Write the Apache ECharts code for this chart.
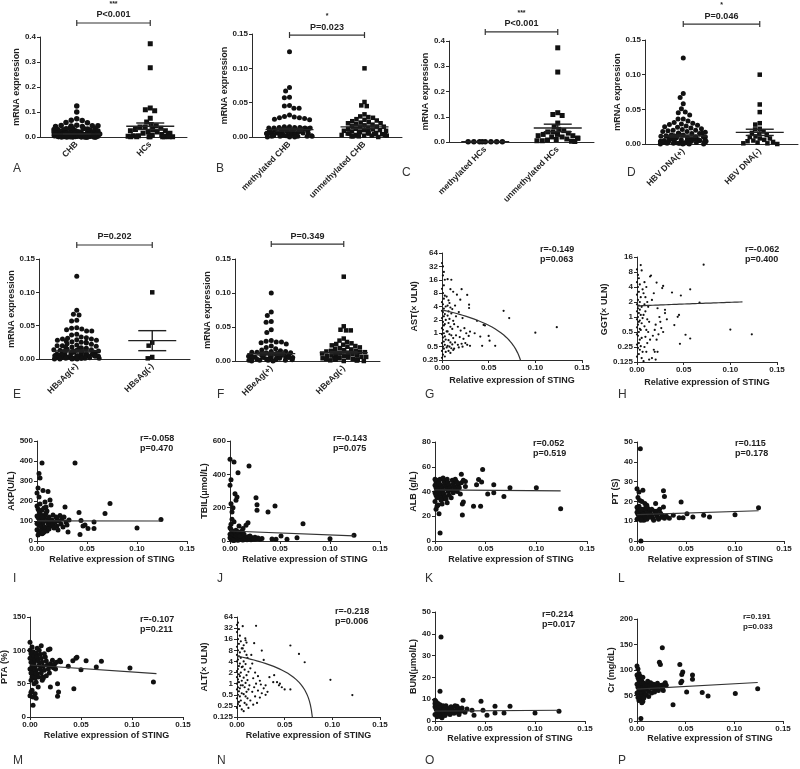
<!DOCTYPE html>
<html><head><meta charset="utf-8">
<script src="https://cdn.jsdelivr.net/npm/echarts@6/dist/echarts.min.js"></script>
<style>html,body{margin:0;padding:0;background:#fff}#c{width:800px;height:769px}</style>
</head><body><div id="c"></div>
<script>
// ---------------- DATA ----------------
// Dot plots (mRNA expression)
const A_cats = ['CHB', 'HCs'];
const A_CHB = [0.124,0.100,0.073,0.067,0.066,0.058,0.057,0.047,0.046,0.045,0.045,0.044,0.042,0.042,
 0.037,0.036,0.035,0.034,0.033,0.032,0.031,0.030,0.030,0.029,0.028,0.028,0.027,0.027,0.026,0.025,0.025,0.024,0.024,0.023,0.022,0.022,
 0.021,0.020,0.020,0.019,0.019,0.018,0.018,0.017,0.017,0.016,0.016,0.015,0.015,0.015,
 0.014,0.014,0.013,0.013,0.013,0.012,0.012,0.012,0.011,0.011,0.011,0.010,0.010,0.010,0.010,
 0.009,0.009,0.009,0.009,0.008,0.008,0.008,0.008,0.007,0.007,0.007,0.007,0.007,
 0.006,0.006,0.006,0.006,0.006,0.005,0.005,0.005,0.005,0.005,0.005,
 0.004,0.004,0.004,0.004,0.004,0.004,0.003,0.003,0.003,0.003,0.003,0.003,0.003,
 0.002,0.002,0.002,0.002,0.002,0.002,0.002,0.001,0.001,0.001,0.001,0.001,0.001,0.001,0.001,
 0.000,0.000,0.000,0.000,0.000,0.000];
const A_HCs = [0.373,0.277,0.116,0.109,0.105,0.075,0.060,0.050,0.045,0.040,0.040,0.035,0.030,0.030,0.025,0.025,0.020,0.020,
 0.015,0.015,0.012,0.010,0.008,0.005,0.005,0.003,0.002,0.001,0.001,0.001,0.001,0.001,0.001,0.001,0.001];
const A_mean = [0.012, 0.043], A_sem = [0.0015, 0.013];

const B_cats = ['methylated CHB', 'unmethylated CHB'];
const B_meth = [0.124,0.072,0.067,0.058,0.057,0.046,0.045,0.042,0.042,0.032,0.030,0.029,0.028,0.028,0.027,0.026,0.025,
 0.015,0.015,0.014,0.014,0.014,0.013,0.013,0.013,0.013,0.012,0.012,0.012,0.011,0.011,0.011,0.010,0.010,0.010,0.010,
 0.009,0.009,0.009,0.008,0.008,0.008,0.008,0.007,0.007,0.007,0.006,0.006,0.006,0.006,0.005,0.005,0.005,0.005,
 0.004,0.004,0.004,0.004,0.003,0.003,0.003,0.003,0.003,0.002,0.002,0.002,0.002,0.001,0.001,0.001,0.001,0.001,0.000,0.000,0.000];
const B_unmeth = [0.100,0.051,0.046,0.045,0.033,0.030,0.029,0.028,0.026,0.025,0.024,0.023,0.022,0.021,0.020,0.020,0.019,0.018,
 0.017,0.016,0.015,0.015,0.014,0.013,0.012,0.012,0.011,0.010,0.010,0.009,0.009,0.008,0.008,0.007,0.007,0.006,0.006,
 0.005,0.005,0.005,0.004,0.004,0.003,0.003,0.003,0.002,0.002,0.002,0.001,0.001,0.001,0.000];
const B_mean = [0.0107, 0.0147], B_sem = [0.002, 0.0025];

const C_cats = ['methylated HCs', 'unmethylated HCs'];
const C_meth = [0.001,0.001,0.001,0.001,0.001,0.001,0.001,0.001];
const C_unmeth = [0.373,0.277,0.116,0.109,0.105,0.075,0.060,0.050,0.045,0.040,0.040,0.035,0.030,0.030,0.025,0.025,0.020,0.020,
 0.015,0.015,0.012,0.010,0.008,0.005,0.005,0.003,0.002];
const C_mean = [0.001, 0.0556], C_sem = [0.0002, 0.015];

const D_cats = ['HBV DNA(+)', 'HBV DNA(-)'];
const D_pos = [0.124,0.073,0.067,0.058,0.051,0.046,0.045,0.042,0.036,0.036,0.033,0.031,0.030,0.029,0.028,0.027,0.026,0.025,
 0.024,0.023,0.022,0.021,0.020,0.020,0.019,0.018,0.018,0.017,0.016,0.016,0.015,0.015,0.014,0.014,0.013,0.013,0.012,0.012,0.012,
 0.011,0.011,0.010,0.010,0.010,0.009,0.009,0.009,0.008,0.008,0.008,0.008,0.007,0.007,0.007,0.007,0.006,0.006,0.006,0.006,
 0.005,0.005,0.005,0.005,0.005,0.004,0.004,0.004,0.004,0.004,0.003,0.003,0.003,0.003,0.003,0.002,0.002,0.002,0.002,0.002,
 0.001,0.001,0.001,0.001,0.001,0.001,0.000,0.000,0.000,0.000];
const D_neg = [0.100,0.057,0.046,0.030,0.028,0.022,0.021,0.018,0.016,0.015,0.013,0.011,0.010,0.008,0.008,0.006,0.005,0.004,0.003,0.002,0.001,0.001,0.000];
const D_mean = [0.0115, 0.0168], D_sem = [0.0015, 0.0045];

const E_cats = ['HBsAg(+)', 'HBsAg(-)'];
const E_pos = [0.124,0.073,0.067,0.066,0.058,0.057,0.047,0.046,0.045,0.044,0.042,0.042,0.037,0.036,0.033,0.032,0.031,0.030,0.030,
 0.029,0.028,0.028,0.027,0.026,0.025,0.025,0.024,0.023,0.022,0.021,0.020,0.020,0.019,0.018,0.018,0.017,0.016,0.016,0.015,0.015,
 0.014,0.014,0.013,0.013,0.012,0.012,0.012,0.011,0.011,0.010,0.010,0.010,0.009,0.009,0.009,0.008,0.008,0.008,0.007,0.007,0.007,
 0.006,0.006,0.006,0.006,0.005,0.005,0.005,0.005,0.005,0.004,0.004,0.004,0.004,0.004,0.003,0.003,0.003,0.003,0.003,
 0.002,0.002,0.002,0.002,0.002,0.001,0.001,0.001,0.001,0.001,0.001,0.000,0.000,0.000,0.000];
const E_neg = [0.100,0.0245,0.020,0.003,0.001];
const E_mean = [0.012, 0.0275], E_sem = [0.0015, 0.015];

const F_cats = ['HBeAg(+)', 'HBeAg(-)'];
const F_pos = [0.100,0.072,0.067,0.058,0.057,0.046,0.042,0.030,0.029,0.028,0.028,0.027,0.025,0.022,0.020,0.018,0.016,0.015,0.014,0.014,
 0.013,0.013,0.012,0.012,0.011,0.011,0.010,0.010,0.010,0.009,0.009,0.009,0.008,0.008,0.008,0.007,0.007,0.007,0.006,0.006,0.006,
 0.005,0.005,0.005,0.005,0.004,0.004,0.004,0.003,0.003,0.003,0.003,0.002,0.002,0.002,0.001,0.001,0.001,0.001,0.000,0.000];
const F_neg = [0.124,0.051,0.046,0.045,0.045,0.033,0.030,0.028,0.026,0.025,0.024,0.023,0.022,0.021,0.020,0.019,0.018,0.017,0.016,
 0.015,0.015,0.014,0.013,0.013,0.012,0.012,0.011,0.011,0.010,0.010,0.009,0.009,0.008,0.008,0.007,0.007,0.006,0.006,
 0.005,0.005,0.005,0.004,0.004,0.004,0.003,0.003,0.003,0.002,0.002,0.002,0.001,0.001,0.001,0.000,0.000];
const F_mean = [0.0108, 0.0123], F_sem = [0.002, 0.0018];

// Correlation panels: [STING expression, clinical value]
const G_AST = [[0.000,38],[0.001,32],[0.002,24],[0.001,20],[0.003,16],[0.002,12],[0.000,10],[0.001,8],[0.003,7],[0.002,6],[0.000,5],[0.001,4.5],[0.004,4],[0.002,3.6],[0.000,3.2],[0.001,3],[0.003,2.7],[0.002,2.4],[0.000,2.2],[0.004,2],[0.001,1.8],[0.003,1.6],[0.002,1.5],[0.000,1.3],[0.001,1.2],[0.005,1.1],[0.002,1],[0.000,0.95],[0.003,0.85],[0.001,0.8],[0.004,0.72],[0.002,0.65],[0.000,0.6],[0.003,0.55],[0.001,0.5],[0.005,0.48],[0.002,0.45],[0.000,0.4],[0.004,0.38],[0.001,0.33],[0.003,0.3],[0.000,0.28],
 [0.006,16.5],[0.010,16],[0.009,9.8],[0.012,8.6],[0.005,6.7],[0.007,5.5],[0.008,4.8],[0.006,4.2],[0.009,3.8],[0.011,3.5],[0.007,3.1],[0.010,2.8],[0.006,2.5],[0.008,2.1],[0.012,1.9],[0.007,1.7],[0.009,1.4],[0.011,1.25],[0.006,1.1],[0.008,0.95],[0.010,0.9],[0.012,0.78],[0.007,0.7],[0.009,0.62],[0.011,0.56],[0.006,0.52],[0.008,0.5],[0.010,0.46],[0.007,0.4],[0.012,0.42],[0.009,0.36],
 [0.016,7.4],[0.021,9.8],[0.0196,5.7],[0.027,7.3],[0.029,4.4],[0.029,3.7],[0.014,4.2],[0.018,3],[0.015,2.4],[0.022,2.2],[0.013,1.6],[0.017,1.4],[0.024,1.3],[0.020,1.15],[0.026,1.0],[0.030,1.09],[0.0286,0.87],[0.015,0.9],[0.019,0.82],[0.023,0.75],[0.025,0.6],[0.021,0.58],[0.017,0.55],[0.014,0.62],[0.027,0.55],[0.030,0.52],[0.018,0.48],[0.013,0.45],[0.022,0.5],
 [0.066,3.2],[0.072,2.2],[0.100,1.03],[0.123,1.37],[0.0375,1.9],[0.0446,1.54],[0.046,1.5],[0.041,0.84],[0.050,0.87],[0.051,0.68],[0.043,0.52],[0.057,0.52],[0.035,1.0]];
const G_fit = [3.36, -37];

const H_GGT = [[0.000,9],[0.001,7],[0.004,11],[0.005,8.6],[0.002,6],[0.000,5],[0.003,4.5],[0.001,4],[0.006,3.6],[0.002,3.2],[0.000,2.8],[0.004,2.5],[0.001,2.2],[0.003,2],[0.000,1.8],[0.002,1.7],[0.005,1.6],[0.001,1.5],[0.003,1.4],[0.000,1.3],[0.002,1.2],[0.004,1.1],[0.001,1.0],[0.006,0.95],[0.000,0.9],[0.003,0.85],[0.002,0.8],[0.005,0.75],[0.001,0.7],[0.000,0.62],[0.003,0.58],[0.004,0.55],[0.002,0.5],[0.000,0.45],[0.001,0.42],[0.005,0.38],[0.003,0.35],[0.002,0.3],[0.000,0.28],[0.004,0.26],[0.001,0.24],[0.003,0.22],[0.006,0.2],[0.002,0.18],[0.000,0.16],[0.005,0.15],[0.007,0.13],
 [0.008,5],[0.010,4],[0.007,3],[0.009,2.5],[0.011,2],[0.008,1.8],[0.012,1.6],[0.009,1.3],[0.007,1.1],[0.011,0.9],[0.013,0.8],[0.008,0.65],[0.010,0.55],[0.012,0.5],[0.009,0.4],[0.014,0.35],[0.011,0.3],[0.008,0.25],[0.013,0.14],[0.010,0.2],
 [0.014,6.5],[0.015,6.8],[0.021,4.9],[0.028,4.2],[0.027,3.8],[0.018,3],[0.016,2.2],[0.022,1.5],[0.030,1.39],[0.030,1.2],[0.032,0.9],[0.024,1],[0.025,0.8],[0.020,0.7],[0.026,0.6],[0.019,0.55],[0.023,0.45],[0.028,0.5],[0.017,0.42],[0.021,0.35],[0.018,0.22],[0.019,0.2],[0.016,0.15],[0.020,0.14],[0.022,0.2],
 [0.0714,11.2],[0.0375,3.1],[0.047,2.7],[0.057,3.6],[0.067,1.95],[0.100,0.56],[0.123,0.45],[0.052,0.44],[0.057,0.37],[0.046,0.29],[0.040,0.69],[0.0436,1.01],[0.045,1.1]];
const H_fit = [1.67, 3.0];

const I_AKP = [[0.005,390],[0.038,390],[0.002,337],[0.003,315],[0.006,253],[0.011,248],[0.028,170],[0.073,187],[0.068,137],[0.042,142],[0.124,107],[0.100,65],[0.057,95],[0.057,62],[0.051,62],[0.046,75],[0.044,103],[0.048,80],[0.043,33],[0.029,95],[0.031,45],[0.023,128],[0.020,115],[0.016,130],[0.013,205],[0.008,195],[0.001,265],[0.000,240],[0.002,220],[0.014,180],
 [0.000,175],[0.001,160],[0.002,150],[0.003,140],[0.004,130],[0.000,125],[0.001,118],[0.002,112],[0.003,105],[0.004,100],[0.005,95],[0.006,90],[0.000,88],[0.001,84],[0.002,80],[0.003,76],[0.004,72],[0.005,68],[0.006,64],[0.007,60],[0.000,56],[0.001,52],[0.002,48],[0.003,44],[0.004,40],[0.005,36],[0.006,110],[0.007,120],[0.008,130],[0.009,140],[0.010,100],[0.011,90],[0.012,80],[0.008,70],[0.009,60],[0.010,50],[0.011,110],[0.012,120],[0.013,95],[0.014,75],[0.015,105],[0.016,85],[0.017,65],[0.018,95],[0.019,120],[0.020,75],[0.021,55],[0.022,100],[0.024,85],[0.025,110],[0.026,70],[0.027,120],[0.030,80],[0.032,105],[0.005,155],[0.007,165],[0.009,170],[0.003,185],[0.010,150],[0.004,50],[0.007,45],[0.012,60],[0.001,30],[0.006,40],[0.002,95],[0.005,120]];
const I_fit = [101, -8];

const J_TBIL = [[0.000,490],[0.004,474],[0.008,410],[0.001,368],[0.000,334],[0.019,450],[0.007,264],[0.005,284],[0.006,244],[0.001,224],[0.002,174],[0.026,260],[0.027,218],[0.027,184],[0.038,174],[0.045,210],[0.073,104],[0.018,110],[0.124,34],[0.100,14],[0.067,20],[0.057,10],[0.051,30],[0.046,10],[0.042,12],[0.032,15],[0.003,200],[0.002,130],[0.004,115],[0.001,100],[0.009,90],[0.013,75],[0.016,95],[0.012,60],
 [0.000,80],[0.001,70],[0.002,60],[0.003,55],[0.004,50],[0.005,45],[0.000,40],[0.001,35],[0.002,30],[0.003,25],[0.004,20],[0.005,15],[0.006,10],[0.007,8],[0.008,5],[0.000,20],[0.001,12],[0.002,8],[0.003,5],[0.004,3],[0.006,30],[0.007,25],[0.008,20],[0.009,15],[0.010,12],[0.011,10],[0.012,8],[0.013,6],[0.014,20],[0.015,15],[0.016,10],[0.017,8],[0.018,25],[0.019,18],[0.020,12],[0.021,8],[0.022,20],[0.023,15],[0.024,10],[0.025,22],[0.026,12],[0.028,18],[0.030,10],[0.009,40],[0.011,35],[0.006,65],[0.008,55],[0.010,30],[0.014,40],[0.020,30]];
const J_fit = [60, -240];

const K_ALB = [[0.005,6.5],[0.004,22],[0.027,21],[0.027,30],[0.028,31.5],[0.038,28],[0.045,28],[0.047,57.7],[0.043,49.6],[0.046,47.7],[0.041,45.5],[0.052,38],[0.058,39],[0.058,45.5],[0.068,36],[0.074,43],[0.100,43],[0.124,26],[0.026,54],[0.001,25.6],[0.002,28],[0.000,32],
 [0.000,50],[0.001,48],[0.002,46],[0.003,44],[0.004,42],[0.005,40],[0.006,38],[0.007,36],[0.008,34],[0.000,45],[0.001,43],[0.002,41],[0.003,39],[0.004,37],[0.005,35],[0.006,33],[0.000,39],[0.001,37],[0.002,35],[0.003,49],[0.004,47],[0.005,50],[0.006,45],[0.007,43],[0.008,41],[0.009,48],[0.010,46],[0.011,44],[0.012,42],[0.013,40],[0.009,38],[0.010,36],[0.011,34],[0.012,50],[0.013,47],[0.014,45],[0.015,43],[0.016,41],[0.017,49],[0.018,46],[0.019,44],[0.020,42],[0.021,48],[0.022,40],[0.023,45],[0.024,43],[0.025,38],[0.026,47],[0.028,49],[0.030,48],[0.030,44],[0.020,50],[0.016,35],[0.012,31],[0.007,30],[0.003,29],[0.018,39],[0.014,37],[0.022,47],[0.008,51]];
const K_fit = [41.3, -6];

const L_PT = [[0.0034,46.6],[0.004,0],[0.000,26.4],[0.002,24.7],[0.006,25.6],[0.001,22],[0.003,20.5],[0.005,20],[0.027,25.4],[0.028,22.5],[0.027,17.2],[0.019,18.9],[0.045,19.7],[0.124,16.8],[0.100,13.3],[0.068,13],[0.074,12.1],[0.057,12.1],[0.051,13.8],[0.047,11.8],[0.043,11.8],[0.037,13],[0.033,11.5],[0.030,12.5],[0.008,19],[0.010,18],
 [0.000,17],[0.001,16],[0.002,15],[0.003,14],[0.004,13],[0.005,12],[0.006,11],[0.007,10.5],[0.000,14.5],[0.001,13.5],[0.002,12.5],[0.003,11.5],[0.004,10.5],[0.005,16],[0.006,15],[0.007,14],[0.008,13],[0.009,12],[0.010,11],[0.011,16.5],[0.012,15.5],[0.013,14.5],[0.014,13.5],[0.015,12.5],[0.016,11.5],[0.017,10.5],[0.018,15],[0.019,14],[0.020,13],[0.021,12],[0.022,11],[0.023,16],[0.024,14],[0.025,12],[0.026,13],[0.028,11.5],[0.008,16],[0.010,14],[0.012,12],[0.000,11],[0.002,17.5],[0.004,15.5],[0.006,13.5],[0.009,17],[0.015,16],[0.020,15]];
const L_fit = [13.3, 16];

const M_PTA = [[0.000,112],[0.011,107],[0.0196,102],[0.018,101],[0.003,17.5],[0.000,32],[0.001,37],[0.003,30],[0.005,35],[0.002,40],[0.006,28],[0.020,45],[0.027,50],[0.027,31],[0.028,37.5],[0.043,42.5],[0.042,84.5],[0.045,88],[0.046,89.5],[0.055,84.5],[0.050,71],[0.065,75],[0.070,83.5],[0.098,73.5],[0.121,52.5],[0.029,85],[0.030,83],[0.0375,76],[0.008,45],[0.012,55],
 [0.000,100],[0.001,95],[0.002,90],[0.003,85],[0.004,80],[0.005,75],[0.006,70],[0.007,65],[0.008,60],[0.000,88],[0.001,82],[0.002,76],[0.003,70],[0.004,64],[0.005,58],[0.006,52],[0.000,72],[0.001,66],[0.002,60],[0.003,98],[0.004,92],[0.005,86],[0.006,96],[0.007,90],[0.008,84],[0.009,78],[0.010,72],[0.011,66],[0.012,60],[0.009,100],[0.010,94],[0.011,88],[0.012,82],[0.013,76],[0.014,70],[0.015,90],[0.016,84],[0.017,78],[0.018,72],[0.019,66],[0.020,80],[0.021,76],[0.022,85],[0.023,74],[0.024,79],[0.025,72],[0.026,82],[0.014,95],[0.007,103],[0.002,105],[0.001,55],[0.004,50],[0.013,58],[0.016,62]];
const M_fit = [78, -105];

const N_ALT = [[0.000,39],[0.001,45],[0.002,30],[0.000,25],[0.003,20],[0.001,16],[0.004,14],[0.002,12],[0.000,10],[0.005,9],[0.001,8],[0.003,7],[0.000,6],[0.002,5.5],[0.004,5],[0.001,4.5],[0.000,4],[0.003,3.5],[0.002,3],[0.005,2.8],[0.001,2.5],[0.000,2.2],[0.004,2],[0.002,1.8],[0.003,1.6],[0.000,1.5],[0.001,1.3],[0.005,1.2],[0.002,1.1],[0.000,1],[0.004,0.9],[0.001,0.8],[0.003,0.75],[0.000,0.7],[0.002,0.62],[0.005,0.55],[0.001,0.5],[0.003,0.45],[0.000,0.4],[0.004,0.35],[0.002,0.32],[0.001,0.28],[0.003,0.25],[0.000,0.22],[0.005,0.2],[0.007,0.18],
 [0.006,36],[0.0087,17],[0.009,15],[0.010,13],[0.007,11],[0.006,9],[0.008,7.5],[0.010,6],[0.011,5],[0.007,4],[0.009,3.4],[0.006,2.9],[0.008,2.4],[0.012,2.1],[0.010,1.7],[0.007,1.45],[0.011,1.25],[0.009,1.05],[0.006,0.9],[0.008,0.8],[0.012,0.7],[0.010,0.6],[0.007,0.52],[0.009,0.45],[0.011,0.4],[0.008,0.3],[0.010,0.27],[0.012,0.22],
 [0.020,37],[0.018,12.5],[0.026,7.9],[0.028,4.4],[0.015,6],[0.016,3.5],[0.014,2.6],[0.019,2],[0.022,1.6],[0.017,1.4],[0.024,1.2],[0.020,1.0],[0.025,0.95],[0.013,0.9],[0.018,0.8],[0.028,0.75],[0.022,0.65],[0.016,0.6],[0.026,0.55],[0.030,0.5],[0.019,0.45],[0.024,0.42],[0.014,0.35],[0.021,0.3],[0.017,0.27],[0.032,0.6],[0.030,0.9],[0.034,1.5],
 [0.056,10.8],[0.065,6.4],[0.071,3.8],[0.098,1.27],[0.121,0.49],[0.056,0.7],[0.039,1.7],[0.042,1.1],[0.045,1.0],[0.047,0.8],[0.050,0.7],[0.044,0.9],[0.038,1.1]];
const N_fit = [5.6, -69.3];

const O_BUN = [[0.006,38.5],[0.005,13.7],[0.000,9.5],[0.028,9.5],[0.046,9.1],[0.060,6.8],[0.060,3.7],[0.075,6.8],[0.069,3.7],[0.100,3.7],[0.124,4.5],[0.048,4.9],[0.052,2.6],[0.039,2.6],[0.037,4.9],[0.032,5.5],[0.022,6.8],[0.030,4],
 [0.000,8],[0.001,7],[0.002,6],[0.003,5],[0.004,4],[0.005,3],[0.006,2],[0.007,1.5],[0.000,6.5],[0.001,5.5],[0.002,4.5],[0.003,3.5],[0.004,2.5],[0.005,7.5],[0.006,6.5],[0.007,5.5],[0.008,4.5],[0.009,3.5],[0.010,2.5],[0.011,7],[0.012,6],[0.013,5],[0.014,4],[0.015,3],[0.016,6.5],[0.017,5.5],[0.018,4.5],[0.019,3.5],[0.020,7],[0.021,5],[0.022,4],[0.023,6],[0.024,3],[0.025,5],[0.026,4.5],[0.027,6],[0.008,7],[0.010,6],[0.012,3.5],[0.000,3],[0.002,2],[0.004,7],[0.001,9],[0.003,8],[0.009,5]];
const O_fit = [4.5, 3.5];

const P_Cr = [[0.000,108],[0.026,143.6],[0.023,115],[0.024,111],[0.044,111],[0.047,96],[0.046,91],[0.057,90],[0.057,82],[0.027,60],[0.037,32],[0.051,57],[0.067,56],[0.073,49],[0.101,54],[0.124,63],[0.004,5],[0.045,75],[0.046,78],
 [0.000,90],[0.001,85],[0.002,80],[0.003,75],[0.004,70],[0.005,65],[0.006,60],[0.007,55],[0.008,50],[0.000,72],[0.001,66],[0.002,60],[0.003,54],[0.004,48],[0.005,42],[0.006,38],[0.000,55],[0.001,46],[0.002,40],[0.003,88],[0.004,82],[0.005,78],[0.006,86],[0.007,74],[0.008,68],[0.009,62],[0.010,72],[0.011,66],[0.012,58],[0.013,70],[0.014,75],[0.015,64],[0.016,68],[0.017,72],[0.018,62],[0.019,70],[0.020,66],[0.021,74],[0.022,60],[0.023,68],[0.025,70],[0.026,64],[0.028,72],[0.030,70],[0.029,75],[0.009,52],[0.011,78],[0.002,93],[0.005,36],[0.007,45],[0.012,48],[0.015,55],[0.018,57],[0.001,102]];
const P_fit = [62.5, 105];

// ---------------- BUILD ----------------
const FF = '"Liberation Sans", Arial, Helvetica, sans-serif';
const AX = '#2b2b2b', TXT = '#222', PT = '#111';
const grids = [], xAxes = [], yAxes = [], series = [], graphics = [];

function addGrid(l, r, t, b) {
  grids.push({left: l, top: t, width: r - l, height: b - t, containLabel: false, outerBoundsMode: 'none'});
  return grids.length - 1;
}
function yAxisBase(i, cfg, name, gap) {
  return Object.assign({
    gridIndex: i, name: name, nameLocation: 'middle', nameGap: gap,
    nameTextStyle: {fontFamily: FF, fontWeight: 'bold', fontSize: 9, color: TXT},
    axisLine: {show: true, lineStyle: {color: AX, width: 1}},
    axisTick: {show: true, inside: false, length: 3, lineStyle: {color: AX}},
    axisLabel: {fontFamily: FF, fontWeight: 'bold', fontSize: 8, color: TXT, margin: 4},
    splitLine: {show: false}, minorTick: {show: false}
  }, cfg);
}

function dotPanel(rect, cats, groups, means, sems, yMax, yInt, yDec, gap, bracketY, pText, stars, sym, jit) {
  const i = addGrid(...rect);
  xAxes.push({gridIndex: i, type: 'category', data: cats, boundaryGap: true,
    jitter: jit, jitterOverlap: false, jitterMargin: 0.2,
    axisLine: {show: true, lineStyle: {color: AX, width: 1}}, axisTick: {show: false},
    axisLabel: {rotate: 45, interval: 0, fontFamily: FF, fontWeight: 'bold', fontSize: 8.5, color: TXT, margin: 6},
    splitLine: {show: false}});
  const ya = yAxisBase(i, {type: 'value', min: 0, max: yMax, interval: yInt}, 'mRNA expression', gap);
  ya.axisLabel.formatter = v => v.toFixed(yDec);
  yAxes.push(ya);
  groups.forEach((g, k) => series.push({type: 'scatter', xAxisIndex: i, yAxisIndex: i,
    symbol: k === 0 ? 'circle' : 'rect', symbolSize: k === 0 ? sym : sym - 0.5,
    itemStyle: {color: PT, opacity: 1}, silent: true, animation: false,
    data: g.map(v => [cats[k], v])}));
  series.push({type: 'custom', xAxisIndex: i, yAxisIndex: i, clip: false, z: 5, silent: true,
    data: means.map((m, k) => [k, m, sems[k]]),
    renderItem(p, api) {
      const c = api.coord([api.value(0), api.value(1)]);
      const hi = api.coord([api.value(0), api.value(1) + api.value(2)]);
      const lo = api.coord([api.value(0), api.value(1) - api.value(2)]);
      const st = {stroke: '#222', lineWidth: 1.4};
      return {type: 'group', children: [
        {type: 'line', shape: {x1: c[0] - 24, y1: c[1], x2: c[0] + 24, y2: c[1]}, style: st},
        {type: 'line', shape: {x1: c[0] - 14, y1: hi[1], x2: c[0] + 14, y2: hi[1]}, style: st},
        {type: 'line', shape: {x1: c[0] - 14, y1: lo[1], x2: c[0] + 14, y2: lo[1]}, style: st},
        {type: 'line', shape: {x1: c[0], y1: hi[1], x2: c[0], y2: lo[1]}, style: st}
      ]};
    }});
  series.push({type: 'custom', xAxisIndex: i, yAxisIndex: i, clip: false, z: 5, silent: true,
    data: [[0, bracketY]],
    renderItem(p, api) {
      const a = api.coord([0, api.value(1)]), b = api.coord([1, api.value(1)]);
      const st = {stroke: '#333', lineWidth: 1.2};
      const kids = [
        {type: 'line', shape: {x1: a[0], y1: a[1], x2: b[0], y2: b[1]}, style: st},
        {type: 'line', shape: {x1: a[0], y1: a[1] - 3, x2: a[0], y2: a[1] + 3}, style: st},
        {type: 'line', shape: {x1: b[0], y1: b[1] - 3, x2: b[0], y2: b[1] + 3}, style: st},
        {type: 'text', x: (a[0] + b[0]) / 2, y: a[1] - 8, style: {text: pText, fill: TXT, font: 'bold 9px ' + FF, align: 'center', verticalAlign: 'middle'}}
      ];
      if (stars) kids.push({type: 'text', x: (a[0] + b[0]) / 2, y: a[1] - 19, style: {text: stars, fill: TXT, font: 'bold 7px ' + FF, align: 'center', verticalAlign: 'middle'}});
      return {type: 'group', children: kids};
    }});
}

function scatterPanel(rect, pts, ycfg, yName, gap, xGap, fit, xEnd, sym, rp, rpPos, rpSize) {
  const i = addGrid(...rect);
  xAxes.push({gridIndex: i, type: 'value', min: 0, max: 0.15, interval: 0.05,
    name: 'Relative expression of STING', nameLocation: 'middle', nameGap: xGap,
    nameTextStyle: {fontFamily: FF, fontWeight: 'bold', fontSize: 9, color: TXT},
    axisLine: {show: true, onZero: false, lineStyle: {color: AX, width: 1}},
    axisTick: {show: true, inside: false, length: 3, lineStyle: {color: AX}},
    axisLabel: {fontFamily: FF, fontWeight: 'bold', fontSize: 8, color: TXT, margin: 4, formatter: v => v.toFixed(2)},
    splitLine: {show: false}});
  const ya = yAxisBase(i, ycfg, yName, gap);
  if (ycfg.type === 'log') ya.axisLabel.formatter = v => String(+(+v).toPrecision(4));
  ya.axisLine.onZero = false;
  yAxes.push(ya);
  series.push({type: 'scatter', xAxisIndex: i, yAxisIndex: i, symbol: 'circle', symbolSize: sym,
    itemStyle: {color: PT, opacity: 1}, silent: true, data: pts});
  // regression line y = a + b*x drawn through the axes (curved on log axes)
  const a = fit[0], b = fit[1];
  let x1 = xEnd;
  if (ycfg.type === 'log' && b < 0) x1 = Math.min(xEnd, (ycfg.min - a) / b);
  const n = ycfg.type === 'log' ? 80 : 1;
  const line = [];
  for (let k = 0; k <= n; k++) { const x = x1 * k / n; line.push([x, Math.max(a + b * x, ycfg.min || 0)]); }
  series.push({type: 'line', xAxisIndex: i, yAxisIndex: i, data: line, showSymbol: false, symbol: 'none',
    lineStyle: {color: '#333', width: 1.2}, silent: true, z: 4});
  graphics.push({type: 'text', x: rpPos[0], y: rpPos[1], style: {text: rp[0], fill: TXT, font: 'bold ' + rpSize + 'px ' + FF, verticalAlign: 'middle'}});
  graphics.push({type: 'text', x: rpPos[0], y: rpPos[1] + 10, style: {text: rp[1], fill: TXT, font: 'bold ' + rpSize + 'px ' + FF, verticalAlign: 'middle'}});
}

// Row 1
dotPanel([40, 187, 37, 137], A_cats, [A_CHB, A_HCs], A_mean, A_sem, 0.4, 0.1, 1, 14, 0.456, 'P<0.001', '***', 5.5, 46);
dotPanel([252, 402, 34, 137], B_cats, [B_meth, B_unmeth], B_mean, B_sem, 0.15, 0.05, 2, 20, 0.1485, 'P=0.023', '*', 5, 46);
dotPanel([449, 594, 41, 142], C_cats, [C_meth, C_unmeth], C_mean, C_sem, 0.4, 0.1, 1, 14, 0.436, 'P<0.001', '***', 5.5, 44);
dotPanel([645, 798, 40, 144], D_cats, [D_pos, D_neg], D_mean, D_sem, 0.15, 0.05, 2, 22, 0.173, 'P=0.046', '*', 5, 46);
// Row 2
dotPanel([39, 190, 259, 359], E_cats, [E_pos, E_neg], E_mean, E_sem, 0.15, 0.05, 2, 19, 0.171, 'P=0.202', '', 5, 46);
dotPanel([235, 380, 259, 361], F_cats, [F_pos, F_neg], F_mean, F_sem, 0.15, 0.05, 2, 22, 0.172, 'P=0.349', '', 5, 46);
scatterPanel([442, 582, 253, 360], G_AST, {type: 'log', logBase: 2, min: 0.25, max: 64, splitNumber: 8}, 'AST(× ULN)', 22, 16, G_fit, 0.124, 2.2, ['r=-0.149', 'p=0.063'], [540, 250], 9);
scatterPanel([637, 777, 257, 362], H_GGT, {type: 'log', logBase: 2, min: 0.125, max: 16, splitNumber: 7}, 'GGT(× ULN)', 25, 16, H_fit, 0.113, 2.2, ['r=-0.062', 'p=0.400'], [745, 250], 9);
// Row 3
scatterPanel([37, 187, 441, 541], I_AKP, {type: 'value', min: 0, max: 500, interval: 100}, 'AKP(U/L)', 17, 14, I_fit, 0.124, 5, ['r=-0.058', 'p=0.470'], [140, 439], 9);
scatterPanel([230, 380, 441, 541], J_TBIL, {type: 'value', min: 0, max: 600, interval: 200}, 'TBIL(μmol/L)', 18, 14, J_fit, 0.124, 5, ['r=-0.143', 'p=0.075'], [333, 439], 9);
scatterPanel([435, 587, 442, 541], K_ALB, {type: 'value', min: 0, max: 80, interval: 20}, 'ALB (g/L)', 15, 14, K_fit, 0.124, 5, ['r=0.052', 'p=0.519'], [533, 444], 9);
scatterPanel([637, 784, 442, 541], L_PT, {type: 'value', min: 0, max: 50, interval: 10}, 'PT (S)', 14, 14, L_fit, 0.124, 5, ['r=0.115', 'p=0.178'], [735, 444], 9);
// Row 4
scatterPanel([30, 183, 617, 717], M_PTA, {type: 'value', min: 0, max: 150, interval: 50}, 'PTA (%)', 20, 14, M_fit, 0.124, 5, ['r=-0.107', 'p=0.211'], [140, 620], 9);
scatterPanel([237, 380, 617, 717], N_ALT, {type: 'log', logBase: 2, min: 0.125, max: 64, splitNumber: 9}, 'ALT(× ULN)', 25, 14, N_fit, 0.124, 2.2, ['r=-0.218', 'p=0.006'], [335, 612], 9);
scatterPanel([435, 585, 612, 721], O_BUN, {type: 'value', min: 0, max: 50, interval: 10}, 'BUN(μmol/L)', 15, 13, O_fit, 0.124, 5, ['r=0.214', 'p=0.017'], [542, 615], 9);
scatterPanel([637, 783, 619, 721], P_Cr, {type: 'value', min: 0, max: 200, interval: 50}, 'Cr (mg/dL)', 15, 13, P_fit, 0.124, 5, ['r=0.191', 'p=0.033'], [743, 617], 8);

// Panel letters
const letters = [['A',13,169],['B',216,169],['C',402,173],['D',627,173],['E',13,395],['F',217,395],['G',425,395],['H',618,395],
  ['I',13,579],['J',217,579],['K',425,579],['L',618,579],['M',13,761],['N',217,761],['O',425,761],['P',618,761]];
letters.forEach(l => graphics.push({type: 'text', x: l[1], y: l[2], style: {text: l[0], fill: '#333', font: '12px ' + FF, verticalAlign: 'middle'}}));

const chart = echarts.init(document.getElementById('c'), null, {renderer: 'canvas'});
chart.setOption({
  animation: false,
  backgroundColor: '#fff',
  textStyle: {fontFamily: FF},
  grid: grids, xAxis: xAxes, yAxis: yAxes, series: series,
  graphic: {elements: graphics}
});
</script>
</body></html>
